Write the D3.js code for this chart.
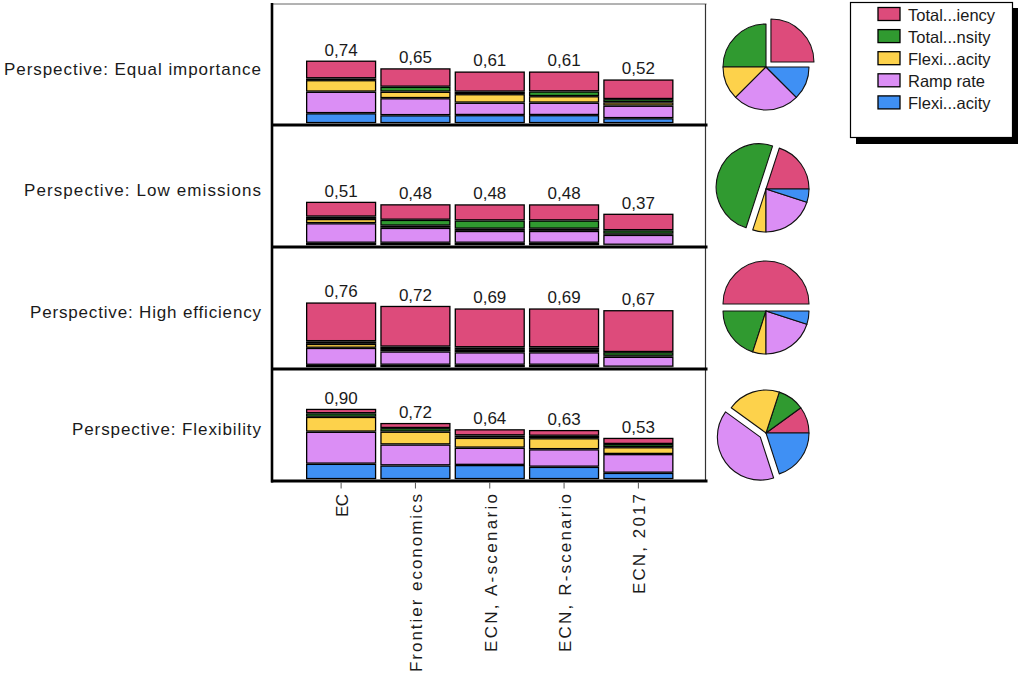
<!DOCTYPE html>
<html><head><meta charset="utf-8">
<script src="https://cdn.jsdelivr.net/npm/d3@7"></script>
<style>
body{margin:0;background:#fff}
svg{display:block}
text{font-family:"Liberation Sans", Arial, sans-serif; fill:#1a1a1a}
</style>
</head><body>
<svg id="c" width="1018" height="680"></svg>
<script>
// ---------------- DATA ----------------
const categories = ["EC", "Frontier economics", "ECN, A-scenario", "ECN, R-scenario", "ECN, 2017"];
const seriesNames = ["Total...iency", "Total...nsity", "Flexi...acity", "Ramp rate", "Flexi...acity"];
const perspectives = ["Perspective: Equal importance", "Perspective: Low emissions",
                      "Perspective: High efficiency", "Perspective: Flexibility"];

// rows = series (legend order), columns = categories
const equalImportance = [
  [0.211, 0.219, 0.239, 0.236, 0.233],
  [0.020, 0.058, 0.029, 0.056, 0.038],
  [0.137, 0.077, 0.101, 0.077, 0.039],
  [0.255, 0.202, 0.147, 0.147, 0.149],
  [0.118, 0.094, 0.096, 0.096, 0.059]
];
const lowEmissions = [
  [0.175, 0.183, 0.190, 0.190, 0.195],
  [0.027, 0.069, 0.097, 0.097, 0.041],
  [0.050, 0.025, 0.025, 0.025, 0.012],
  [0.230, 0.176, 0.140, 0.140, 0.118],
  [0.028, 0.028, 0.028, 0.028, 0.004]
];
const highEfficiency = [
  [0.456, 0.479, 0.457, 0.457, 0.493],
  [0.030, 0.028, 0.030, 0.030, 0.044],
  [0.047, 0.028, 0.028, 0.028, 0.010],
  [0.200, 0.157, 0.147, 0.147, 0.118],
  [0.027, 0.028, 0.028, 0.028, 0.005]
];
const flexibility = [
  [0.058, 0.066, 0.080, 0.075, 0.080],
  [0.045, 0.045, 0.030, 0.030, 0.040],
  [0.190, 0.165, 0.127, 0.142, 0.088],
  [0.410, 0.268, 0.221, 0.224, 0.240],
  [0.198, 0.176, 0.182, 0.159, 0.082]
];

// pie weights per perspective (legend order)
const equalWeights      = [0.25, 0.25, 0.125, 0.25, 0.125];
const lowEmissionWeights = [0.20, 0.50, 0.05, 0.20, 0.05];
const efficiencyWeights = [0.50, 0.20, 0.05, 0.20, 0.05];
const flexibilityWeights = [0.10, 0.10, 0.20, 0.40, 0.20];

const yMax = 1.41;

// ---------------- STYLE / LAYOUT ----------------
const seriesColors = ["#DD4B7B", "#309A30", "#FDD24B", "#DB8EF5", "#3F90F4"];
const panelValues = [equalImportance, lowEmissions, highEfficiency, flexibility];
const panelWeights = [equalWeights, lowEmissionWeights, efficiencyWeights, flexibilityWeights];
const panelTop = [4, 125, 247, 369];
const panelBottom = [125, 247, 369, 481];
const yLabelLen = [257, 237, 231, 189];
const xLabelLen = [23, 178, 158, 158, 100];
const frameL = 272, frameR = 705.5;
const border = 1.3;

const svg = d3.select("#c");
svg.append("rect").attr("width", 1018).attr("height", 680).attr("fill", "#fff");

const x = d3.scaleBand().domain(categories).range([306, 673.5]).paddingInner(0.055).paddingOuter(0);
const bw = x.bandwidth();
const fmt = v => d3.format(".2f")(v).replace(".", ",");

panelValues.forEach((vals, p) => {
  const ys = d3.scaleLinear().domain([0, yMax]).range([panelBottom[p] - 1.8, panelTop[p]]);
  const rows = categories.map((c, j) => {
    const o = {cat: c};
    vals.forEach((arr, k) => o["s" + k] = arr[j]);
    return o;
  });
  const keys = ["s4", "s3", "s2", "s1", "s0"];
  const layers = d3.stack().keys(keys)(rows);
  const g = svg.append("g");
  layers.forEach(layer => {
    const k = +layer.key.slice(1);
    layer.forEach(d => {
      const y0 = ys(d[1]), y1 = ys(d[0]);
      const xx = x(d.data.cat);
      g.append("rect").attr("x", xx).attr("y", y0).attr("width", bw)
        .attr("height", Math.max(0, y1 - y0)).attr("fill", "#000");
      if (y1 - y0 > 2 * border) {
        g.append("rect").attr("x", xx + border).attr("y", y0 + border)
          .attr("width", bw - 2 * border).attr("height", y1 - y0 - 2 * border)
          .attr("fill", seriesColors[k]);
      }
    });
  });
  // totals
  rows.forEach(r => {
    const tot = d3.sum(keys, key => r[key]);
    g.append("text").attr("x", x(r.cat) + bw / 2).attr("y", ys(tot) - 5)
      .attr("text-anchor", "middle").attr("font-size", 17).text(fmt(tot));
  });
  // perspective label
  svg.append("text").attr("x", 261).attr("y", (panelTop[p] + panelBottom[p]) / 2 + 10)
    .attr("text-anchor", "end").attr("font-size", 17)
    .attr("textLength", yLabelLen[p]).attr("lengthAdjust", "spacing")
    .text(perspectives[p]);
});

// ---------------- FRAME ----------------
const frame = svg.append("g");
frame.append("line").attr("x1", frameL).attr("x2", frameR + 1).attr("y1", 4).attr("y2", 4)
  .attr("stroke", "#666").attr("stroke-width", 1);
frame.append("line").attr("x1", frameR).attr("x2", frameR).attr("y1", 4).attr("y2", 481)
  .attr("stroke", "#333").attr("stroke-width", 1.2);
panelBottom.forEach(yb => {
  frame.append("line").attr("x1", frameL - 1).attr("x2", frameR + 2).attr("y1", yb).attr("y2", yb)
    .attr("stroke", "#000").attr("stroke-width", 3);
});
frame.append("line").attr("x1", frameL).attr("x2", frameL).attr("y1", 3).attr("y2", 482.5)
  .attr("stroke", "#000").attr("stroke-width", 2.6);

// x axis ticks
const ax = svg.append("g").attr("transform", "translate(0,482.5)")
  .call(d3.axisBottom(x).tickSize(6).tickSizeOuter(0).tickFormat(""));
ax.select(".domain").remove();
ax.selectAll(".tick line").attr("stroke", "#555");

// x labels
categories.forEach((c, j) => {
  const cx = x(c) + bw / 2;
  svg.append("text").attr("transform", `translate(${cx + 1},494) rotate(-90)`)
    .attr("text-anchor", "end").attr("dy", "0.35em").attr("font-size", 17)
    .attr("textLength", xLabelLen[j]).attr("lengthAdjust", "spacing")
    .text(c);
});

// ---------------- PIES ----------------
const pie = d3.pie().sort(null).value(d => d).startAngle(Math.PI / 2).endAngle(Math.PI / 2 - 2 * Math.PI);
const arc = d3.arc().innerRadius(0).outerRadius(43);
panelWeights.forEach((w, p) => {
  const g = svg.append("g").attr("transform", `translate(766,${67 + p * 122})`);
  const arcs = pie(w);
  const maxI = w.indexOf(d3.max(w));
  arcs.forEach((a, i) => {
    let dx = 0, dy = 0;
    if (i === maxI) {
      const mid = (a.startAngle + a.endAngle) / 2;
      dx = Math.sin(mid) * 7; dy = -Math.cos(mid) * 7;
    }
    g.append("path").attr("d", arc(a)).attr("transform", `translate(${dx},${dy})`)
      .attr("fill", seriesColors[i]).attr("stroke", "#111").attr("stroke-width", 1.1)
      .attr("stroke-linejoin", "round");
  });
});

// ---------------- LEGEND ----------------
const lg = svg.append("g");
lg.append("rect").attr("x", 856).attr("y", 8).attr("width", 162).attr("height", 136).attr("fill", "#000");
lg.append("rect").attr("x", 850.5).attr("y", 2.5).attr("width", 162).attr("height", 135)
  .attr("fill", "#fff").attr("stroke", "#000").attr("stroke-width", 1.2);
seriesNames.forEach((s, i) => {
  const yy = 7.5 + i * 22.1;
  lg.append("rect").attr("x", 878).attr("y", yy).attr("width", 22).attr("height", 13)
    .attr("fill", seriesColors[i]).attr("stroke", "#000").attr("stroke-width", 1.3);
  lg.append("text").attr("x", 908).attr("y", yy + 13).attr("font-size", 16.5).text(s);
});
</script>
</body></html>
